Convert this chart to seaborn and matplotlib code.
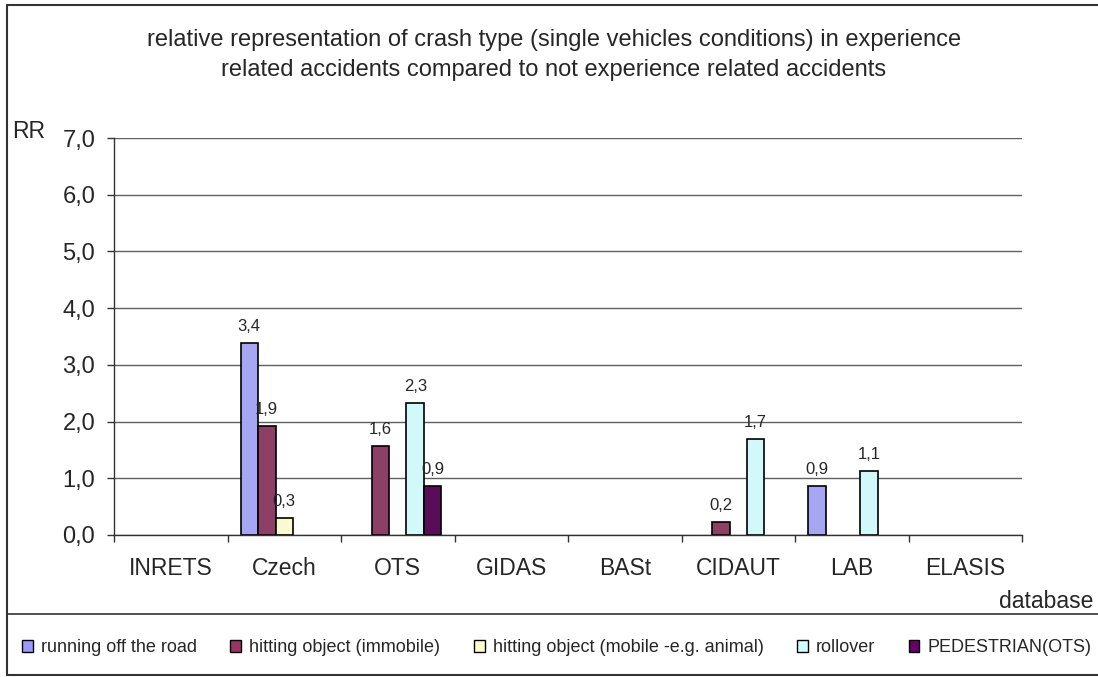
import matplotlib
matplotlib.use("Agg")
import matplotlib.pyplot as plt
from matplotlib.lines import Line2D
from matplotlib.patches import Patch
from matplotlib.ticker import FuncFormatter, FixedLocator
import seaborn as sns
import pandas as pd
import numpy as np

# ---- data ----
databases = ["INRETS", "Czech", "OTS", "GIDAS", "BASt", "CIDAUT", "LAB", "ELASIS"]
crash_types = ["running off the road", "hitting object (immobile)",
               "hitting object (mobile -e.g. animal)", "rollover", "PEDESTRIAN(OTS)"]
running_off_road = [None, 3.39, None, None, None, None, 0.87, None]
hitting_immobile = [None, 1.93, 1.57, None, None, 0.23, None, None]
hitting_mobile = [None, 0.30, None, None, None, None, None, None]
rollover = [None, None, 2.32, None, None, 1.70, 1.13, None]
pedestrian = [None, None, 0.86, None, None, None, None, None]
colors = ["#9999FF", "#993366", "#FFFFCC", "#CCFFFF", "#660066"]
y_ticks = [0, 1, 2, 3, 4, 5, 6, 7]
title_lines = ["relative representation of crash type (single vehicles conditions) in experience",
               "related accidents compared to not experience related accidents"]

series = [running_off_road, hitting_immobile, hitting_mobile, rollover, pedestrian]
rows = []
for name, vals in zip(crash_types, series):
    for db, v in zip(databases, vals):
        if v is not None:
            rows.append({"database": db, "type": name, "RR": v})
df = pd.DataFrame(rows)

sns.set_style("white")
plt.rcParams["font.family"] = ["Liberation Sans", "DejaVu Sans"]

W, H = 1098, 677
fig = plt.figure(figsize=(W / 100, H / 100), dpi=100)
ax = fig.add_axes([114 / W, 1 - 535 / H, 908 / W, 397 / H])

sns.barplot(data=df, x="database", y="RR", hue="type", order=databases,
            hue_order=crash_types, palette=colors, width=0.77,
            edgecolor="black", linewidth=1.2, errorbar=None, ax=ax,
            legend=False)

ax.set_xlim(-0.5, len(databases) - 0.5)
ax.set_ylim(0, 7)
ax.yaxis.set_major_locator(FixedLocator(y_ticks))
ax.yaxis.set_major_formatter(FuncFormatter(lambda v, p: f"{v:.1f}".replace(".", ",")))
ax.grid(axis="y", color="#606060", linewidth=1.0)
ax.set_axisbelow(True)
ax.set_xlabel("")
ax.set_ylabel("")
for s in ["top", "right"]:
    ax.spines[s].set_visible(False)
for s in ["left", "bottom"]:
    ax.spines[s].set_color("#333333")
    ax.spines[s].set_linewidth(1.0)

ax.tick_params(axis="y", which="major", left=True, length=5, width=1,
               color="#333333", pad=8.5, labelsize=17)
ax.set_xticks(np.arange(-0.5, len(databases), 1.0), minor=True)
ax.tick_params(axis="x", which="minor", bottom=True, length=5, width=1, color="#333333")
ax.tick_params(axis="x", which="major", bottom=False, length=0, pad=16, labelsize=16.5)

for cont in ax.containers:
    ax.bar_label(cont, fmt=lambda v: f"{v:.1f}".replace(".", ","),
                 padding=6.5, fontsize=12)

# titles and texts
fig.text(554 / W, 1 - 40 / H, title_lines[0], ha="center", va="center", fontsize=17)
fig.text(554 / W, 1 - 70 / H, title_lines[1], ha="center", va="center", fontsize=17)
fig.text(12 / W, 1 - 132 / H, "RR", ha="left", va="center", fontsize=16.5)
fig.text(1093 / W, 1 - 601 / H, "database", ha="right", va="center", fontsize=16.5)

# frame and separator
lc = "#333333"
fig.add_artist(Line2D([7 / W, 7 / W], [1 - 5 / H, 1 - 675 / H], color=lc, lw=1.5, transform=fig.transFigure))
fig.add_artist(Line2D([7 / W, 1], [1 - 5 / H, 1 - 5 / H], color=lc, lw=1.5, transform=fig.transFigure))
fig.add_artist(Line2D([7 / W, 1], [1 - 675 / H, 1 - 675 / H], color=lc, lw=1.5, transform=fig.transFigure))
fig.add_artist(Line2D([7 / W, 1], [1 - 614 / H, 1 - 614 / H], color=lc, lw=1.2, transform=fig.transFigure))

handles = [Patch(facecolor=c, edgecolor="black", linewidth=1.0, label=l)
           for c, l in zip(colors, crash_types)]
fig.legend(handles=handles, loc="center left", bbox_to_anchor=(22 / W, 1 - 648 / H),
           ncol=5, frameon=False, fontsize=13, handlelength=0.6, handleheight=0.6,
           handletextpad=0.45, columnspacing=1.85, borderpad=0, borderaxespad=0)

fig.savefig("out.png", dpi=100)
